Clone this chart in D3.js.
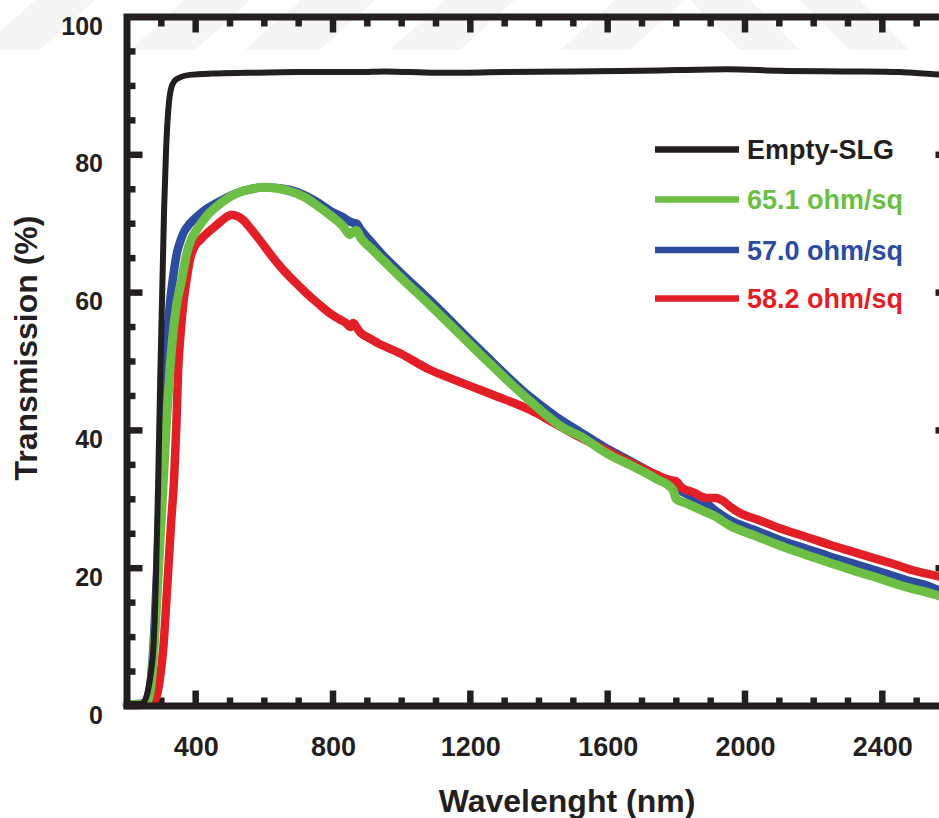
<!DOCTYPE html>
<html>
<head>
<meta charset="utf-8">
<script src="https://cdn.jsdelivr.net/npm/d3@7"></script>
<style>
  html, body { margin: 0; padding: 0; background: #fff; overflow: hidden; }
  svg { display: block; font-family: "Liberation Sans", Arial, sans-serif; font-weight: bold; }
</style>
</head>
<body>
<svg id="chart" width="939" height="818"></svg>
<script>
// ---------------- DATA ----------------
const seriesNames = ["Empty-SLG", "65.1 ohm/sq", "57.0 ohm/sq", "58.2 ohm/sq"];
const seriesColors = ["#231f20", "#6cbe45", "#2d4b9f", "#e21f26"];

const blackNm = [200,240,252,262,270,277,284,291,297,303,308,314,322,332,345,383,450,550,700,878,950,1100,1300,1500,1700,1800,1950,2100,2300,2450,2550,2600];
const blackT  = [0.3,0.3,0.8,2.5,5,8.6,18,33,48,61,72,81,87.5,90.2,91.0,91.6,91.8,91.9,92.0,92.0,92.1,91.9,92.0,92.1,92.2,92.3,92.4,92.2,92.1,92.0,91.7,91.6];

const greenNm = [200,250,262,270,279,292,306,316,325,335,345,359,374,388,403,430,461,490,519,560,597,640,675,715,752,790,830,849,860,869,880,907,946,995,1082,1228,1373,1470,1519,1600,1664,1740,1790,1800,1830,1860,1888,1910,1955,2030,2101,2175,2247,2320,2392,2440,2489,2530,2564,2600];
const greenT  = [0.2,0.3,1.0,3,8.6,20,32.8,42,48.8,54.5,58.4,61.8,65.7,67.8,69.1,71.0,72.5,73.6,74.4,75.0,75.3,75.1,74.7,73.9,72.7,71.3,69.6,68.4,68.9,69.0,68.0,66.6,64.7,62.3,58.2,51.1,44.3,40.4,39.2,36.6,35.0,33.0,31.4,30.0,29.4,28.7,28.1,27.6,26.2,24.7,23.3,22.0,20.8,19.6,18.5,17.7,17.0,16.5,16.0,15.5];

const blueNm = [200,250,262,270,277,288,298,305,311,318,325,335,345,355,364,383,403,430,461,495,529,560,597,635,675,715,752,791,830,849,860,869,880,907,946,995,1082,1228,1373,1450,1519,1600,1664,1740,1790,1810,1850,1888,1910,1955,2030,2101,2175,2247,2320,2392,2489,2530,2564,2600];
const blueT  = [0.2,0.4,1.3,4,8.6,20,32.8,42,48.8,54,58.4,62.5,65.7,67.4,68.6,70.0,71.0,72.1,73.0,73.9,74.6,75.0,75.3,75.2,74.9,74.2,73.2,71.9,70.9,70.3,70.1,70.0,69.2,67.6,65.4,63.0,58.9,51.7,44.9,42.0,39.8,37.3,35.6,33.5,32.0,31.3,30.3,29.4,28.5,27.0,25.5,24.1,22.9,21.7,20.6,19.5,18.0,17.5,16.8,16.3];

const redNm = [200,260,275,286,296,306,318,329,337,344,349,356,364,374,383,398,412,435,461,485,505,525,539,560,587,620,655,690,723,757,791,820,840,850,859,868,880,898,930,995,1082,1150,1228,1300,1373,1450,1519,1600,1664,1740,1781,1800,1815,1850,1888,1915,1935,1960,1985,2040,2101,2175,2247,2320,2392,2440,2489,2530,2564,2600];
const redT  = [0.1,0.2,0.5,1.35,4,8.6,18,27,32.8,41,48.8,54,58.4,62,64.7,66.8,67.6,68.7,69.8,70.8,71.3,71.0,70.5,69.3,67.6,65.4,63.3,61.5,59.9,58.4,57.0,56.1,55.5,55.0,55.6,55.0,54.2,53.6,52.7,51.2,48.8,47.4,45.9,44.5,43.0,40.9,39.0,37.0,35.4,33.6,32.8,32.6,31.7,31.0,30.2,30.2,29.8,28.8,28.0,27.0,25.8,24.6,23.4,22.3,21.2,20.5,19.7,19.2,18.8,18.4];

const xTickLabels = [400, 800, 1200, 1600, 2000, 2400];
const yTickLabels = [0, 20, 40, 60, 80, 100];
const xTitle = "Wavelenght (nm)";
const yTitle = "Transmission (%)";

// ---------------- LAYOUT ----------------
const svg = d3.select("#chart");
const pL = 127, pR = 951, pT = 17, pB = 706;
const x = d3.scaleLinear().domain([200, 2600]).range([pL, pR]);
const y = d3.scaleLinear().domain([0, 100]).range([pB, pT]);
const ink = "#231f20";

// faint watermark shapes at top
const wm = svg.append("g").attr("fill", "#f5f5f5");
const wmShapes = [
  [[-20,50],[40,50],[95,0],[35,0]],
  [[130,50],[195,50],[250,0],[185,0]],
  [[245,50],[320,50],[375,0],[300,0]],
  [[390,50],[460,50],[515,0],[445,0]],
  [[560,50],[630,50],[685,0],[615,0]],
  [[690,0],[750,0],[800,50],[740,50]],
  [[800,0],[860,0],[910,50],[850,50]]
];
wmShapes.forEach(p => wm.append("polygon").attr("points", p.map(d => d.join(",")).join(" ")));

// ---------------- AXES ----------------
const majorX = d3.range(400, 2600, 400);
const minorX = d3.range(300, 2600, 100).filter(v => v % 400 !== 0);
const majorY = d3.range(20, 100, 20);
const minorY = d3.range(5, 100, 5).filter(v => v % 20 !== 0);

const tickW = 6.5, axisW = 7;
const majLen = 15.5, minLen = 8.5;

const axBottom = d3.axisBottom(x).tickValues(xTickLabels).tickFormat(d3.format("d")).tickSize(0).tickPadding(0);
const gB = svg.append("g").attr("transform", `translate(0,${pB})`).call(axBottom);
gB.select(".domain").remove();
gB.selectAll("text").attr("font-size", 27).attr("font-weight", "bold").attr("fill", ink)
  .attr("font-family", "Liberation Sans, Arial, sans-serif").attr("dy", null).attr("y", 50);

const axLeft = d3.axisLeft(y).tickValues(yTickLabels).tickFormat(d3.format("d")).tickSize(0).tickPadding(0);
const gL = svg.append("g").attr("transform", `translate(${pL},0)`).call(axLeft);
gL.select(".domain").remove();
gL.selectAll("text").attr("font-size", 25).attr("font-weight", "bold").attr("fill", ink)
  .attr("font-family", "Liberation Sans, Arial, sans-serif").attr("dy", null).attr("x", -24)
  .attr("y", 17).attr("text-anchor", "end");

const tg = svg.append("g").attr("stroke", ink).attr("stroke-width", tickW);
majorX.forEach(v => {
  tg.append("line").attr("x1", x(v)).attr("x2", x(v)).attr("y1", pB).attr("y2", pB - majLen);
  tg.append("line").attr("x1", x(v)).attr("x2", x(v)).attr("y1", pT).attr("y2", pT + majLen);
});
minorX.forEach(v => {
  tg.append("line").attr("x1", x(v)).attr("x2", x(v)).attr("y1", pB).attr("y2", pB - minLen);
  tg.append("line").attr("x1", x(v)).attr("x2", x(v)).attr("y1", pT).attr("y2", pT + minLen + 1);
});
majorY.forEach(v => {
  tg.append("line").attr("y1", y(v)).attr("y2", y(v)).attr("x1", pL).attr("x2", pL + majLen);
  tg.append("line").attr("y1", y(v)).attr("y2", y(v)).attr("x1", pR).attr("x2", pR - majLen);
});
minorY.forEach(v => {
  tg.append("line").attr("y1", y(v)).attr("y2", y(v)).attr("x1", pL).attr("x2", pL + minLen);
  tg.append("line").attr("y1", y(v)).attr("y2", y(v)).attr("x1", pR).attr("x2", pR - minLen);
});

// ---------------- LINES ----------------
const line = d3.line().x(d => x(d[0])).y(d => y(d[1])).curve(d3.curveMonotoneX);
const zip = (a, b) => a.map((v, i) => [v, b[i]]);
const series = [
  { data: zip(blueNm, blueT),   color: seriesColors[2], w: 8.5 },
  { data: zip(redNm, redT),     color: seriesColors[3], w: 8.5 },
  { data: zip(greenNm, greenT), color: seriesColors[1], w: 9 },
  { data: zip(blackNm, blackT), color: seriesColors[0], w: 6 }
];
const lg = svg.append("g").attr("fill", "none").attr("stroke-linejoin", "round").attr("stroke-linecap", "round");
series.forEach(s => lg.append("path").attr("d", line(s.data)).attr("stroke", s.color).attr("stroke-width", s.w));

// frame
svg.append("rect").attr("x", pL).attr("y", pT).attr("width", pR - pL).attr("height", pB - pT)
  .attr("fill", "none").attr("stroke", ink).attr("stroke-width", axisW);

// ---------------- TITLES ----------------
svg.append("text").attr("x", 567).attr("y", 812).attr("text-anchor", "middle")
  .attr("font-size", 32).attr("fill", ink).text(xTitle);
svg.append("text").attr("transform", "translate(37,348) rotate(-90)").attr("text-anchor", "middle")
  .attr("font-size", 32).attr("fill", ink).text(yTitle);

// ---------------- LEGEND ----------------
const legY = [149.5, 199.5, 250, 298.5];
const leg = svg.append("g");
seriesNames.forEach((n, i) => {
  leg.append("line").attr("x1", 655).attr("x2", 739).attr("y1", legY[i]).attr("y2", legY[i])
    .attr("stroke", seriesColors[i]).attr("stroke-width", 6.5);
  leg.append("text").attr("x", 747).attr("y", legY[i] + 9.7).attr("font-size", 27)
    .attr("fill", seriesColors[i]).text(n);
});
</script>
</body>
</html>
